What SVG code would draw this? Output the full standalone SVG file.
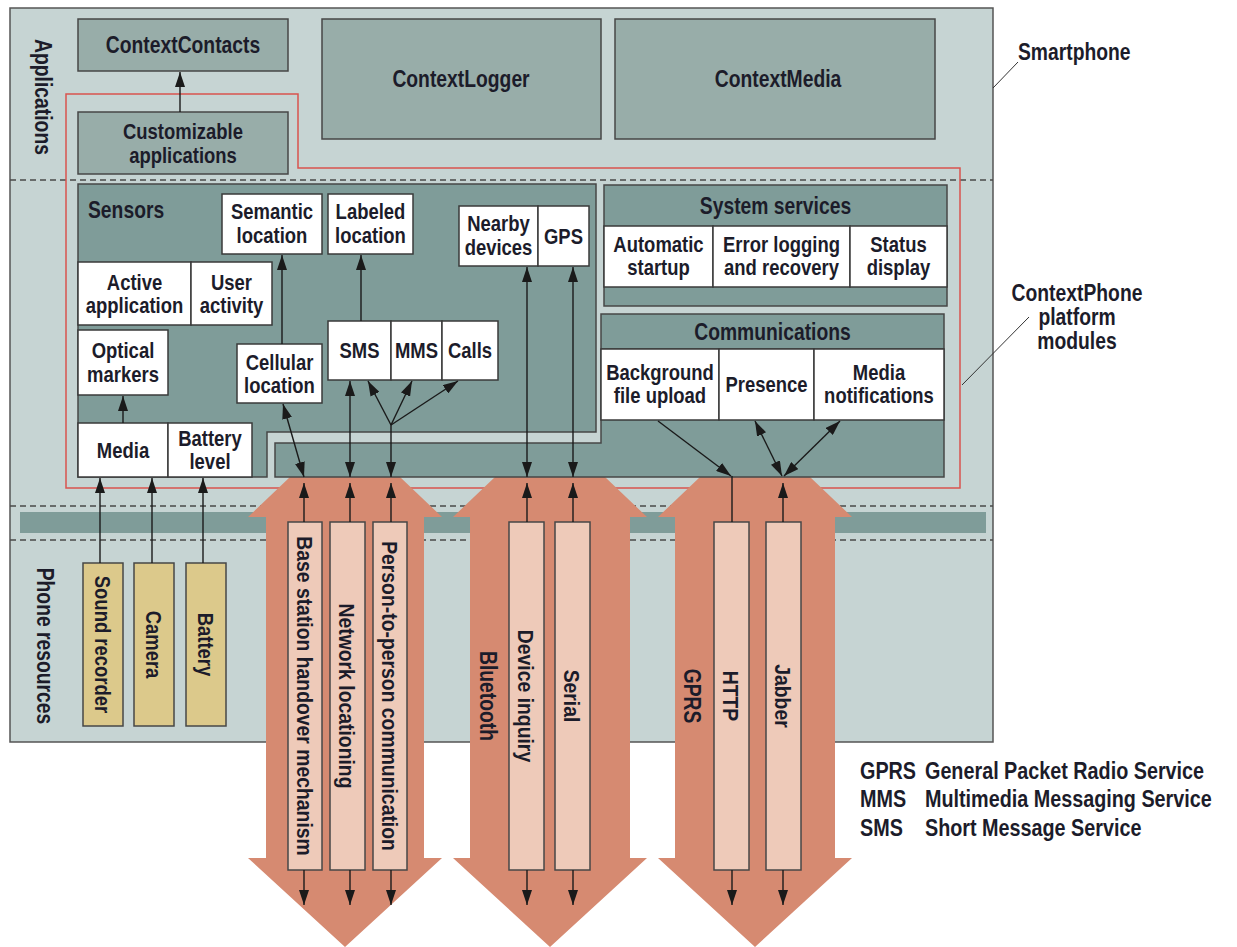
<svg xmlns="http://www.w3.org/2000/svg" width="1237" height="947" viewBox="0 0 1237 947">
<style>
.t{font-family:"Liberation Sans",Arial,sans-serif;font-weight:bold;font-size:22px;fill:#1c1c2a;text-anchor:middle}
.h{font-size:23px}
.lg{font-size:23px;text-anchor:start}
.st{text-anchor:start}
.app{fill:#98ADA9;stroke:#474747;stroke-width:1.5}
.pan{fill:#7F9C99;stroke:#474747;stroke-width:1.5}
.cell{fill:#ffffff;stroke:#3a3a3a;stroke-width:1.5}
.res{fill:#DCC98B;stroke:#474747;stroke-width:1.5}
.pink{fill:#EECAB9;stroke:#474747;stroke-width:1.5}
.big{fill:#D68A71}
.dash{stroke:#4a4a4a;stroke-width:1.5;stroke-dasharray:6 4;fill:none}
.c{stroke:#1a1a1a;stroke-width:1.4;fill:none}
.ca{stroke:#1a1a1a;stroke-width:1.4;fill:none;marker-end:url(#ah)}
.cb{stroke:#1a1a1a;stroke-width:1.4;fill:none;marker-end:url(#ah);marker-start:url(#ah)}
.lead{stroke:#333;stroke-width:1;fill:none}
</style>
<defs>
<marker id="ah" markerUnits="userSpaceOnUse" markerWidth="15" markerHeight="10" refX="15" refY="5" orient="auto-start-reverse">
<path d="M0,0 L15,5 L0,10 Z" fill="#1a1a1a"/>
</marker>
</defs>
<rect width="1237" height="947" fill="#ffffff"/>

<g id="smartphone">
<rect x="10" y="8" width="983" height="734" fill="#C6D4D3" stroke="#555" stroke-width="1.5"/>
<line class="dash" x1="10" y1="180" x2="993" y2="180"/>
<line class="dash" x1="10" y1="506" x2="993" y2="506"/>
<line class="dash" x1="10" y1="540" x2="993" y2="540"/>
<rect x="20" y="512" width="966" height="21" fill="#7F9C99"/>
<text class="t h" transform="translate(43,97) rotate(90) scale(.84,1)" y="8">Applications</text>
<text class="t h" transform="translate(45,646) rotate(90) scale(.84,1)" y="8">Phone resources</text>
</g>

<g id="platform-boundary">
<path d="M66,94 H298 V168 H960 V488 H66 Z" fill="none" stroke="#D9534F" stroke-width="1.5"/>
</g>

<g id="cellular-channel">
<polygon class="big" points="290,477 400,477 442,517 424,517 424,858 442,858 345,947 248,858 266,858 266,517 248,517"/>
</g>
<g id="bluetooth-channel">
<polygon class="big" points="495,477 605,477 647,517 630,517 630,858 647,858 550,947 453,858 470,858 470,517 453,517"/>
<text class="t h" transform="translate(488,696) rotate(90) scale(.84,1)" y="8">Bluetooth</text>
</g>
<g id="gprs-channel">
<polygon class="big" points="700,477 810,477 852,517 835,517 835,858 852,858 755,947 658,858 675,858 675,517 658,517"/>
<text class="t h" transform="translate(692,696) rotate(90) scale(.84,1)" y="8">GPRS</text>
</g>

<g id="contextcontacts"><rect class="app" x="78" y="19" width="210" height="52"/><text class="t h" transform="translate(183,53) scale(.84,1)">ContextContacts</text></g>
<g id="customizable-applications"><rect class="app" x="78" y="112" width="210" height="62"/><text class="t" transform="translate(183,139) scale(.84,1)">Customizable</text><text class="t" transform="translate(183,163) scale(.84,1)">applications</text></g>
<g id="contextlogger"><rect class="app" x="322" y="19" width="279" height="120"/><text class="t h" transform="translate(461,87) scale(.84,1)">ContextLogger</text></g>
<g id="contextmedia"><rect class="app" x="615" y="19" width="320" height="120"/><text class="t h" transform="translate(778,87) scale(.84,1)">ContextMedia</text></g>

<g id="sensors">
<path class="pan" d="M78,184 H596 V432 H267 V477 H78 Z"/>
<text class="t h st" transform="translate(88,218) scale(.84,1)">Sensors</text>
</g>
<g id="semantic-location"><rect class="cell" x="222" y="194" width="100" height="60"/><text class="t" transform="translate(272,219) scale(.84,1)">Semantic</text><text class="t" transform="translate(272,243) scale(.84,1)">location</text></g>
<g id="labeled-location"><rect class="cell" x="328" y="194" width="85" height="60"/><text class="t" transform="translate(370.5,219) scale(.84,1)">Labeled</text><text class="t" transform="translate(370.5,243) scale(.84,1)">location</text></g>
<g id="nearby-devices"><rect class="cell" x="459" y="206" width="79" height="60"/><text class="t" transform="translate(498.5,231) scale(.84,1)">Nearby</text><text class="t" transform="translate(498.5,255) scale(.84,1)">devices</text></g>
<g id="gps"><rect class="cell" x="538" y="206" width="51" height="60"/><text class="t" transform="translate(563.5,244) scale(.84,1)">GPS</text></g>
<g id="active-application"><rect class="cell" x="78" y="262" width="113" height="63"/><text class="t" transform="translate(134.5,290) scale(.84,1)">Active</text><text class="t" transform="translate(134.5,313) scale(.84,1)">application</text></g>
<g id="user-activity"><rect class="cell" x="191" y="262" width="81" height="63"/><text class="t" transform="translate(231.5,290) scale(.84,1)">User</text><text class="t" transform="translate(231.5,313) scale(.84,1)">activity</text></g>
<g id="optical-markers"><rect class="cell" x="78" y="330" width="90" height="65"/><text class="t" transform="translate(123,358) scale(.84,1)">Optical</text><text class="t" transform="translate(123,382) scale(.84,1)">markers</text></g>
<g id="cellular-location"><rect class="cell" x="237" y="344" width="85" height="59"/><text class="t" transform="translate(279.5,370) scale(.84,1)">Cellular</text><text class="t" transform="translate(279.5,393) scale(.84,1)">location</text></g>
<g id="sms"><rect class="cell" x="328" y="321" width="63" height="59"/><text class="t" transform="translate(359.5,358) scale(.84,1)">SMS</text></g>
<g id="mms"><rect class="cell" x="391" y="321" width="51" height="59"/><text class="t" transform="translate(416.5,358) scale(.84,1)">MMS</text></g>
<g id="calls"><rect class="cell" x="442" y="321" width="56" height="59"/><text class="t" transform="translate(470,358) scale(.84,1)">Calls</text></g>
<g id="media"><rect class="cell" x="78" y="423" width="90" height="54"/><text class="t" transform="translate(123,458) scale(.84,1)">Media</text></g>
<g id="battery-level"><rect class="cell" x="168" y="423" width="84" height="54"/><text class="t" transform="translate(210,446) scale(.84,1)">Battery</text><text class="t" transform="translate(210,469) scale(.84,1)">level</text></g>

<g id="system-services">
<rect class="pan" x="604" y="185" width="343" height="121"/>
<text class="t h" transform="translate(775.5,214) scale(.84,1)">System services</text>
</g>
<g id="automatic-startup"><rect class="cell" x="604" y="226" width="109" height="61"/><text class="t" transform="translate(658.5,252) scale(.84,1)">Automatic</text><text class="t" transform="translate(658.5,275) scale(.84,1)">startup</text></g>
<g id="error-logging"><rect class="cell" x="713" y="226" width="137" height="61"/><text class="t" transform="translate(781.5,252) scale(.84,1)">Error logging</text><text class="t" transform="translate(781.5,275) scale(.84,1)">and recovery</text></g>
<g id="status-display"><rect class="cell" x="850" y="226" width="97" height="61"/><text class="t" transform="translate(898.5,252) scale(.84,1)">Status</text><text class="t" transform="translate(898.5,275) scale(.84,1)">display</text></g>

<g id="communications">
<path class="pan" d="M601,314 H944 V477 H275 V443 H601 Z"/>
<line x1="601" y1="349" x2="944" y2="349" stroke="#474747" stroke-width="1.5"/>
<text class="t h" transform="translate(772.5,340) scale(.84,1)">Communications</text>
</g>
<g id="background-file-upload"><rect class="cell" x="601" y="349" width="118" height="71"/><text class="t" transform="translate(660,380) scale(.84,1)">Background</text><text class="t" transform="translate(660,403) scale(.84,1)">file upload</text></g>
<g id="presence"><rect class="cell" x="719" y="349" width="95" height="71"/><text class="t" transform="translate(766.5,392) scale(.84,1)">Presence</text></g>
<g id="media-notifications"><rect class="cell" x="814" y="349" width="130" height="71"/><text class="t" transform="translate(879,380) scale(.84,1)">Media</text><text class="t" transform="translate(879,403) scale(.84,1)">notifications</text></g>

<g id="sound-recorder"><rect class="res" x="83" y="563" width="40" height="163"/><text class="t" transform="translate(103,644.5) rotate(90) scale(.84,1)" y="8">Sound recorder</text></g>
<g id="camera"><rect class="res" x="134" y="563" width="40" height="163"/><text class="t" transform="translate(154,644.5) rotate(90) scale(.84,1)" y="8">Camera</text></g>
<g id="battery"><rect class="res" x="186" y="563" width="40" height="163"/><text class="t" transform="translate(206,644.5) rotate(90) scale(.84,1)" y="8">Battery</text></g>

<g id="base-station-handover"><rect class="pink" x="288" y="522" width="34" height="348"/><text class="t" transform="translate(305,696) rotate(90) scale(.88,1)" y="8">Base station handover mechanism</text></g>
<g id="network-locationing"><rect class="pink" x="330" y="522" width="35" height="348"/><text class="t" transform="translate(347.5,696) rotate(90) scale(.88,1)" y="8">Network locationing</text></g>
<g id="person-to-person"><rect class="pink" x="373" y="522" width="34" height="348"/><text class="t" transform="translate(390,696) rotate(90) scale(.88,1)" y="8">Person-to-person communication</text></g>
<g id="device-inquiry"><rect class="pink" x="509" y="522" width="35" height="348"/><text class="t" transform="translate(526.5,696) rotate(90) scale(.88,1)" y="8">Device inquiry</text></g>
<g id="serial"><rect class="pink" x="555" y="522" width="35" height="348"/><text class="t" transform="translate(572.5,696) rotate(90) scale(.88,1)" y="8">Serial</text></g>
<g id="http"><rect class="pink" x="714" y="522" width="35" height="348"/><text class="t" transform="translate(731.5,696) rotate(90) scale(.88,1)" y="8">HTTP</text></g>
<g id="jabber"><rect class="pink" x="766" y="522" width="35" height="348"/><text class="t" transform="translate(783.5,696) rotate(90) scale(.88,1)" y="8">Jabber</text></g>

<g id="connectors">
<line class="ca" x1="180" y1="112" x2="180" y2="72"/>
<line class="ca" x1="123" y1="423" x2="123" y2="396"/>
<line class="ca" x1="282" y1="344" x2="282" y2="255"/>
<line class="ca" x1="361" y1="321" x2="361" y2="255"/>
<line class="ca" x1="100" y1="563" x2="100" y2="478"/>
<line class="ca" x1="152" y1="563" x2="152" y2="478"/>
<line class="ca" x1="203" y1="563" x2="203" y2="478"/>
<line class="ca" x1="304" y1="522" x2="304" y2="483"/>
<line class="cb" x1="304" y1="477" x2="283" y2="404"/>
<line class="ca" x1="304" y1="870" x2="304" y2="905"/>
<line class="ca" x1="350" y1="522" x2="350" y2="483"/>
<line class="cb" x1="350" y1="477" x2="350" y2="381"/>
<line class="ca" x1="350" y1="870" x2="350" y2="905"/>
<line class="ca" x1="391" y1="522" x2="391" y2="483"/>
<line class="ca" x1="391" y1="425" x2="391" y2="477"/>
<line class="ca" x1="391" y1="425" x2="368" y2="381"/>
<line class="ca" x1="391" y1="425" x2="412" y2="381"/>
<line class="ca" x1="391" y1="425" x2="458" y2="381"/>
<line class="ca" x1="391" y1="870" x2="391" y2="905"/>
<line class="ca" x1="527" y1="522" x2="527" y2="483"/>
<line class="cb" x1="527" y1="477" x2="527" y2="267"/>
<line class="ca" x1="527" y1="870" x2="527" y2="905"/>
<line class="ca" x1="573" y1="522" x2="573" y2="483"/>
<line class="cb" x1="573" y1="477" x2="573" y2="267"/>
<line class="ca" x1="573" y1="870" x2="573" y2="905"/>
<line class="c" x1="732" y1="522" x2="732" y2="476"/>
<line class="ca" x1="658" y1="421" x2="731" y2="476"/>
<line class="ca" x1="732" y1="870" x2="732" y2="905"/>
<line class="ca" x1="783" y1="522" x2="783" y2="483"/>
<line class="cb" x1="755" y1="421" x2="782" y2="476"/>
<line class="cb" x1="840" y1="421" x2="784" y2="476"/>
<line class="ca" x1="783" y1="870" x2="783" y2="905"/>
<line class="lead" x1="993" y1="88" x2="1018" y2="62"/>
<line class="lead" x1="962" y1="385" x2="1029" y2="317"/>
</g>

<g id="labels">
<text class="t h st" transform="translate(1018,60) scale(.84,1)">Smartphone</text>
<text class="t h" transform="translate(1077,301) scale(.84,1)">ContextPhone</text>
<text class="t h" transform="translate(1077,325) scale(.84,1)">platform</text>
<text class="t h" transform="translate(1077,349) scale(.84,1)">modules</text>
</g>

<g id="legend">
<text class="t lg" transform="translate(860,779) scale(.86,1)">GPRS</text><text class="t lg" transform="translate(925,779) scale(.86,1)">General Packet Radio Service</text>
<text class="t lg" transform="translate(860,807) scale(.86,1)">MMS</text><text class="t lg" transform="translate(925,807) scale(.86,1)">Multimedia Messaging Service</text>
<text class="t lg" transform="translate(860,836) scale(.86,1)">SMS</text><text class="t lg" transform="translate(925,836) scale(.86,1)">Short Message Service</text>
</g>
</svg>
